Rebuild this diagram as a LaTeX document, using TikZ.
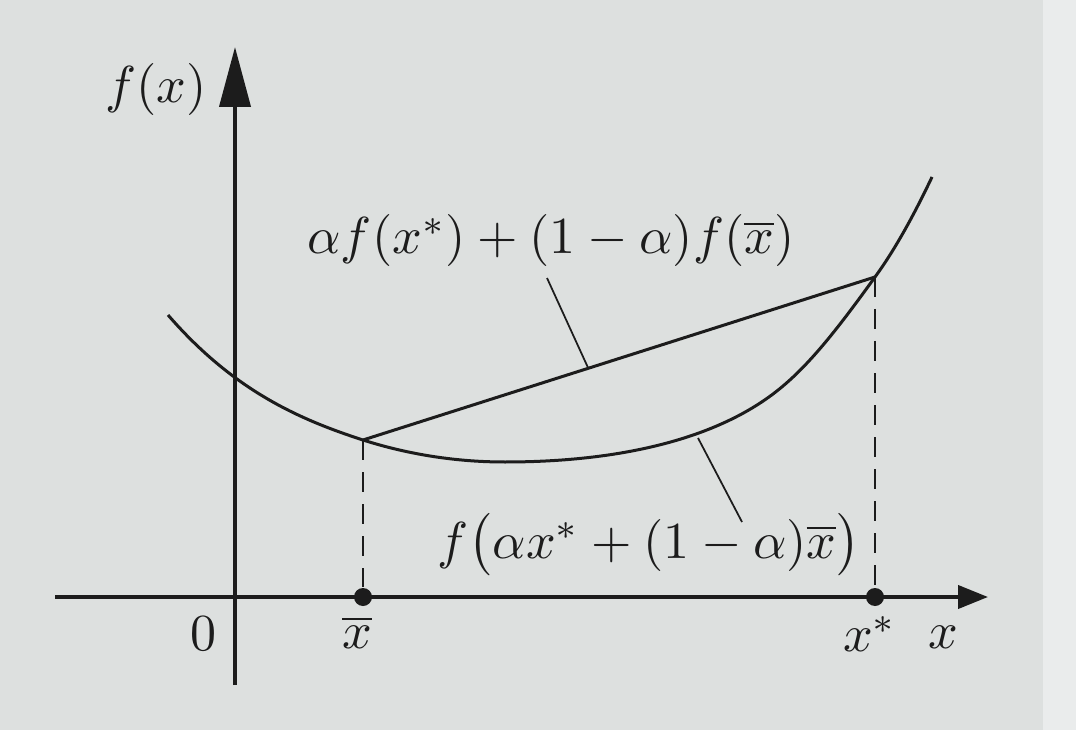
\documentclass[tikz,border=0pt]{standalone}
\usetikzlibrary{arrows.meta,calc}
\definecolor{paper}{RGB}{221,224,223}
\definecolor{paperedge}{RGB}{234,236,236}
\definecolor{ink}{RGB}{28,28,28}
\begin{document}
\begin{tikzpicture}[x=0.2pt,y=-0.2pt,
  axis/.style={ink, line width=0.8pt},
  curveline/.style={ink, line width=0.6pt},
  guide/.style={ink, line width=0.4pt, dash pattern=on 4pt off 2.4pt},
  leader/.style={ink, line width=0.35pt},
  dotmark/.style={circle, fill=ink, inner sep=0pt, minimum size=3.6pt},
  lbl/.style={text=ink, inner sep=0pt, scale=1.04, font=\fontsize{10}{12}\selectfont}]
\fill[paper] (0,0) rectangle (1076,730);
\fill[paperedge] (1043,0) rectangle (1076,730);
\useasboundingbox (0,0) rectangle (1076,730);
% axes
\coordinate (yb) at (235,685);
\coordinate (yt) at (235,47);
\coordinate (xl) at (55,597);
\coordinate (xr) at (988,597);
\draw[axis, -{Triangle[length=12pt,width=6.2pt]}] (yb) -- (yt);
\draw[axis, -{Triangle[length=6pt,width=4.6pt]}] (xl) -- (xr);
% points
\coordinate (A) at (168,315);
\coordinate (P) at (363,440);
\coordinate (M) at (505,462);
\coordinate (R) at (783,386);
\coordinate (Q) at (875,277);
\coordinate (E) at (932,177);
\node[dotmark] (xbar) at (363,597) {};
\node[dotmark] (xstar) at (875,597) {};
% convex curve
\draw[curveline] (A) .. controls (233,390) and (298,419) .. (P)
  .. controls (410,455) and (458,462) .. (M)
  .. controls (625,462) and (723,437) .. (R)
  .. controls (814,360) and (844,320) .. (Q)
  .. controls (894,251) and (913,217) .. (E);
% chord
\draw[curveline] (P) -- (Q);
% dashed guides
\draw[guide] (P) -- (xbar);
\draw[guide] (Q) -- (xstar);
% labels
\node[lbl] (fx) at (156,90) {$f(x)$};
\node[lbl] (chordlbl) at (551,241) {$\alpha f(x^*)+(1-\alpha)f(\overline{x})$};
\node[lbl] (curvelbl) at (649,545) {$f\bigl(\alpha x^*+(1-\alpha)\overline{x}\bigr)$};
\node[lbl] (zero) at (203,634) {$0$};
\node[lbl] (xbarlbl) at (357,632) {$\overline{x}$};
\node[lbl] (xstarlbl) at (870,634) {$x^*$};
\node[lbl] (xlbl) at (943,637) {$x$};
% leaders
\coordinate (L1a) at (547,278);
\coordinate (L1b) at ($(P)!0.44!(Q)$);
\coordinate (L2a) at (698,438);
\coordinate (L2b) at (742,522);
\draw[leader] (L1a) -- (L1b);
\draw[leader] (L2a) -- (L2b);
\end{tikzpicture}
\end{document}
